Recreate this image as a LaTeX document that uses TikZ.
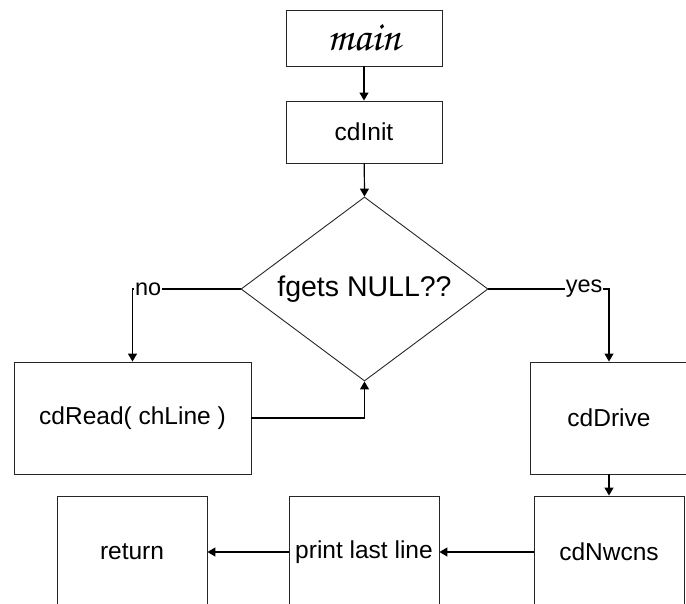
\documentclass[tikz,border=0pt]{standalone}
\usepackage{fontspec}
\setmainfont{Liberation Sans}
\newfontfamily\scriptfnt{texgyrechorus-mediumitalic.otf}
\usetikzlibrary{shapes.geometric,arrows.meta}
\tikzset{
  box/.style={draw=black!85, line width=0.9pt, rectangle, inner sep=0pt, font=\fontsize{24.5}{28}\selectfont},
  dec/.style={draw=black!85, line width=0.9pt, diamond, inner sep=0pt, aspect=1.34, minimum width=247pt, minimum height=184pt, font=\fontsize{28.5}{32}\selectfont},
  arr/.style={line width=1.2pt, -{Triangle[width=9pt,length=8pt]}},
  lbl/.style={fill=white, inner sep=1pt, font=\fontsize{23.5}{26}\selectfont}
}
\begin{document}
\begin{tikzpicture}[x=1pt,y=-1pt]
\useasboundingbox (0,0) rectangle (686,603);
\clip (0,0) rectangle (686,603);
\node[box, minimum width=156pt, minimum height=56pt] (main) at (364,38) {\scriptfnt\fontsize{42}{44}\selectfont main};
\node[box, minimum width=156pt, minimum height=62pt] (init) at (364,132) {cdInit};
\node[dec] (d) at (364.5,289) {fgets NULL??};
\node[box, minimum width=237pt, minimum height=112pt] (read) at (132.5,418) {cdRead( chLine )};
\node[box, minimum width=158pt, minimum height=112pt] (drive) at (609,418) {cdDrive};
\node[box, minimum width=150pt, minimum height=112pt] (ret) at (132,552) {return};
\node[box, minimum width=150pt, minimum height=112pt] (prt) at (364,552) {print last line};
\node[box, minimum width=150pt, minimum height=112pt] (nw) at (609,552) {cdNwcns};

\draw[arr] (main) -- (init);
\draw[arr] (init) -- (d.north);
\draw[arr] (d.west) -| node[lbl, pos=0.5, anchor=west, xshift=1pt] {no} (read.north);
\draw[arr] (d.east) -| node[lbl, pos=0.5, anchor=east, xshift=-5pt] {yes} (drive.north);
\draw[arr] (read.east) -| (d.south);
\draw[arr] (drive) -- (nw);
\draw[arr] (nw) -- (prt);
\draw[arr] (prt) -- (ret);
\end{tikzpicture}
\end{document}
